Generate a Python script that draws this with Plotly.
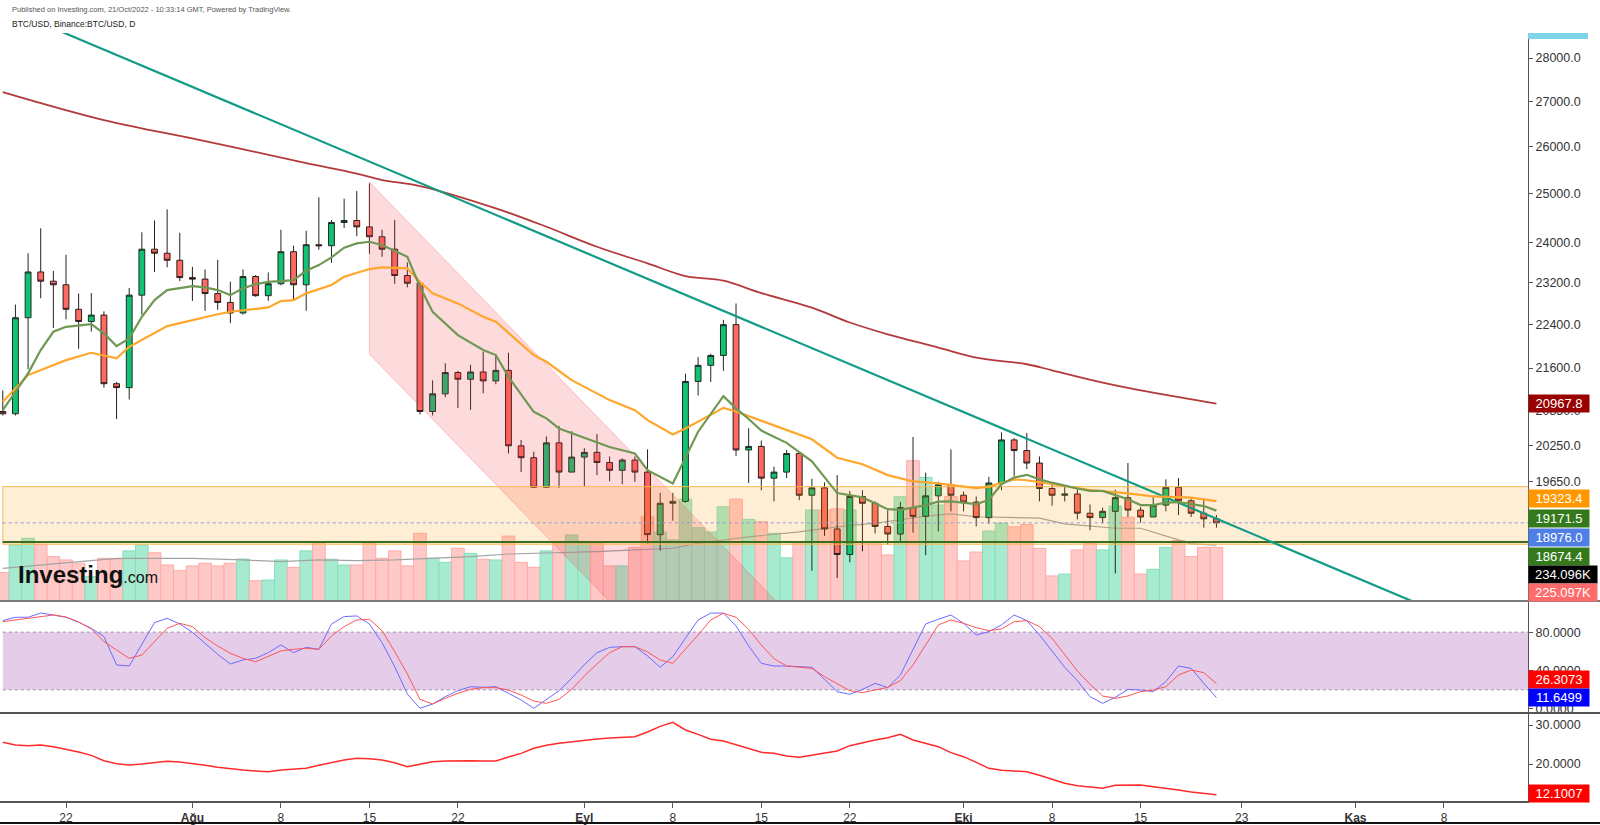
import plotly.graph_objects as go
import pandas as pd

# ---------------- data ----------------
dates = pd.date_range("2022-07-17", "2022-10-21", freq="D").strftime("%Y-%m-%d").tolist()

open_ = [20830, 20790, 22530, 23410, 23230, 23160, 22690, 22460, 22580, 21320, 21250, 22960, 23860, 23780, 23640,
         23300, 23270, 22990, 22820, 22620, 23320, 22950, 23180, 23810, 23160, 23950, 23930, 24400, 24440, 24310,
         24110, 23860, 23340, 23190, 20830, 21140, 21520, 21400, 21530, 21370, 21560, 20240, 20040, 19550, 20290, 19800,
         20050, 20130, 19960, 19830, 20000, 19800, 18790, 19290, 19320, 21360, 21650, 21830, 22400, 20170, 20230,
         19700, 19800, 20110, 19420, 19540, 18880, 18480, 19400, 19290, 18920, 18800, 19220, 19080, 19410, 19590,
         19420, 19310, 19060, 19620, 20340, 20160, 19950, 19530, 19420, 19440, 19130, 19060, 19160, 19380, 19180,
         19070, 19260, 19550, 19330, 19130, 19040]
high = [21200, 22780, 23780, 24280, 23430, 23750, 22990, 23000, 22650, 21350, 23100, 24200, 24440, 24670, 24190,
        23510, 23460, 23650, 23220, 23460, 23350, 23400, 24250, 23930, 24230, 24920, 24450, 24890, 25050, 25210,
        24250, 24450, 23600, 23200, 21380, 21690, 21550, 21660, 21900, 21820, 21880, 20340, 20140, 20400, 20580, 20490,
        20200, 20440, 20060, 20030, 20060, 20180, 19460, 19460, 21500, 21800, 21860, 22490, 22800, 20540, 20330,
        19890, 20170, 20110, 19690, 19630, 19750, 19490, 19500, 19320, 19180, 19310, 20390, 19790, 19640, 20180,
        19480, 19400, 19720, 20470, 20370, 20460, 20060, 19620, 19560, 19520, 19270, 19220, 19510, 19950, 19230,
        19420, 19680, 19700, 19360, 19350, 19100]
low = [20760, 20760, 21580, 22900, 22340, 22500, 21950, 22270, 21250, 20700, 21040, 22590, 23410, 23500, 23230,
       22850, 22660, 22680, 22430, 22590, 22930, 22850, 23150, 22870, 22660, 23850, 23590, 24290, 24120, 23770,
       23710, 23180, 23110, 20780, 20760, 21080, 20890, 20860, 21150, 21310, 20110, 19800, 19540, 19550, 19540, 19800,
       19570, 19750, 19650, 19600, 19640, 18650, 18540, 19010, 19300, 21110, 21350, 21550, 20070, 19620, 19500,
       19320, 19700, 19340, 18230, 18770, 18120, 18360, 18530, 18810, 18630, 18680, 18820, 18470, 18840, 19160,
       19160, 18920, 18960, 19500, 19730, 19850, 19320, 19250, 19320, 19030, 18860, 18970, 18190, 19070, 18980,
       19070, 19160, 19100, 19070, 18900, 18900]
close = [20790, 22530, 23410, 23230, 23160, 22690, 22460, 22580, 21320, 21250, 22960, 23860, 23780, 23640, 23300,
         23270, 22990, 22820, 22620, 23320, 22950, 23180, 23810, 23160, 23950, 23930, 24400, 24440, 24310, 24110,
         23860, 23340, 23190, 20830, 21140, 21520, 21400, 21530, 21370, 21560, 20240, 20040, 19550, 20290, 19800, 20050,
         20130, 19960, 19830, 20000, 19800, 18790, 19290, 19320, 21360, 21650, 21830, 22400, 20170, 20230, 19700,
         19800, 20110, 19420, 19540, 18880, 18480, 19400, 19290, 18920, 18800, 19220, 19080, 19410, 19590, 19420,
         19310, 19060, 19620, 20340, 20160, 19950, 19530, 19420, 19440, 19130, 19060, 19160, 19380, 19180, 19070,
         19260, 19550, 19330, 19130, 19040, 18976]

volume_k = [119, 235, 263, 238, 186, 172, 158, 102, 179, 175, 210, 235, 202, 151, 127,
            147, 158, 147, 158, 176, 85, 88, 172, 141, 210, 249, 175, 151, 151, 244, 179, 210, 147, 284, 179,
            162, 221, 200, 175, 172, 272, 162, 141, 210, 249, 277,
            242, 244, 147, 147, 225, 353, 289, 256, 427, 307, 289, 395, 427, 342, 332, 284, 181, 249, 381, 381,
            386, 381, 247, 239, 193, 437, 588, 518, 402, 437,
            168, 205, 293, 326, 311, 321, 221, 105, 113, 214, 242, 214, 398, 351, 113, 133, 225, 253, 186, 225, 225.097]

vol_ma_dates = ["2022-07-17", "2022-07-20", "2022-07-23", "2022-07-26", "2022-07-29", "2022-08-01", "2022-08-05",
                "2022-08-08", "2022-08-11", "2022-08-14", "2022-08-17", "2022-08-20", "2022-08-23", "2022-08-26",
                "2022-08-30", "2022-09-02", "2022-09-05", "2022-09-08", "2022-09-10", "2022-09-14", "2022-09-18",
                "2022-09-21", "2022-09-24", "2022-09-28", "2022-09-30", "2022-10-02", "2022-10-07", "2022-10-09",
                "2022-10-13", "2022-10-15", "2022-10-18", "2022-10-19", "2022-10-21"]
vol_ma_k = [137, 151, 165, 179, 179, 179, 172, 165, 172, 169, 172, 179, 186, 197, 202, 207, 214, 221, 242, 269,
            290, 311, 326, 356, 365, 353, 347, 323, 305, 305, 256, 239, 234.096]

ema_fast_dates = ["2022-07-17", "2022-07-19", "2022-07-20", "2022-07-21", "2022-07-22", "2022-07-24", "2022-07-25",
                  "2022-07-26", "2022-07-27", "2022-07-28", "2022-07-29", "2022-07-30", "2022-08-01", "2022-08-02",
                  "2022-08-03", "2022-08-04", "2022-08-05", "2022-08-06", "2022-08-07", "2022-08-08", "2022-08-09",
                  "2022-08-10", "2022-08-11", "2022-08-12", "2022-08-13", "2022-08-14", "2022-08-15", "2022-08-16",
                  "2022-08-17", "2022-08-18", "2022-08-19", "2022-08-20", "2022-08-22", "2022-08-24", "2022-08-25",
                  "2022-08-26", "2022-08-28", "2022-08-29", "2022-08-30", "2022-09-01", "2022-09-02", "2022-09-03",
                  "2022-09-05", "2022-09-06", "2022-09-08", "2022-09-09", "2022-09-10", "2022-09-12", "2022-09-13",
                  "2022-09-14", "2022-09-15", "2022-09-17", "2022-09-19", "2022-09-21", "2022-09-22", "2022-09-23",
                  "2022-09-25", "2022-09-26", "2022-09-28", "2022-09-29", "2022-09-30", "2022-10-02", "2022-10-03",
                  "2022-10-04", "2022-10-05", "2022-10-06", "2022-10-07", "2022-10-08", "2022-10-10", "2022-10-11",
                  "2022-10-12", "2022-10-14", "2022-10-15", "2022-10-16", "2022-10-17", "2022-10-18", "2022-10-20",
                  "2022-10-21"]
ema_fast = [20854, 21505, 21929, 22267, 22360, 22411, 22237, 22002, 22144, 22548, 22865, 23058, 23135, 23110,
            23058, 22961, 23091, 23174, 23218, 23238, 23252, 23433, 23545, 23697, 23889, 23977, 24009, 23943,
            23830, 23709, 23121, 22643, 22205, 21929, 21837, 21443, 20824, 20710, 20537, 20380, 20308, 20220,
            20112, 19832, 19613, 20054, 20480, 21100, 20884, 20700, 20500, 20290, 19980, 19455, 19420, 19385,
            19195, 19185, 19260, 19315, 19320, 19275, 19345, 19600, 19710, 19755, 19680, 19625, 19530, 19490,
            19490, 19355, 19260, 19260, 19300, 19310, 19245, 19171.5]

ema_slow_dates = ["2022-07-17", "2022-07-19", "2022-07-22", "2022-07-24", "2022-07-26", "2022-07-27", "2022-07-30",
                  "2022-08-02", "2022-08-03", "2022-08-04", "2022-08-07", "2022-08-08", "2022-08-09", "2022-08-10",
                  "2022-08-12", "2022-08-13", "2022-08-15", "2022-08-16", "2022-08-18", "2022-08-19", "2022-08-20",
                  "2022-08-22", "2022-08-24", "2022-08-25", "2022-08-28", "2022-08-29", "2022-08-31", "2022-09-03",
                  "2022-09-05", "2022-09-06", "2022-09-08", "2022-09-09", "2022-09-12", "2022-09-13", "2022-09-15",
                  "2022-09-17", "2022-09-19", "2022-09-21", "2022-09-23", "2022-09-25", "2022-09-27", "2022-09-29",
                  "2022-10-02", "2022-10-03", "2022-10-05", "2022-10-06", "2022-10-08", "2022-10-11", "2022-10-14",
                  "2022-10-16", "2022-10-19", "2022-10-21"]
ema_slow = [21000, 21474, 21745, 21879, 21777, 21989, 22373, 22548, 22596, 22643, 22726, 22846, 22865, 22994,
            23155, 23316, 23467, 23500, 23480, 23218, 22994, 22802, 22548, 22454, 21837, 21715, 21384, 21029,
            20854, 20680, 20434, 20537, 20894, 20830, 20670, 20520, 20350, 20040, 19930, 19750, 19645, 19615,
            19535, 19560, 19680, 19665, 19600, 19505, 19450, 19400, 19380, 19323.4]

ma200_dates = ["2022-07-17", "2022-07-25", "2022-08-02", "2022-08-10", "2022-08-14", "2022-08-16", "2022-08-19",
               "2022-08-25", "2022-08-29", "2022-09-02", "2022-09-06", "2022-09-09", "2022-09-12", "2022-09-15",
               "2022-09-19", "2022-09-22", "2022-09-25", "2022-09-29", "2022-10-02", "2022-10-06", "2022-10-08",
               "2022-10-12", "2022-10-16", "2022-10-21"]
ma200 = [27214, 26584, 26121, 25644, 25419, 25281, 25155, 24690, 24312, 23909, 23579, 23330, 23240, 23000,
         22720, 22440, 22220, 21975, 21790, 21670, 21560, 21340, 21160, 20967.8]

stoch_k = [92.1, 95.6, 95.6, 100, 98.0, 95.6, 90.4, 84.1, 75.4, 45.8, 44.7, 66.7, 90.0, 94.5, 88.6,
           79.9, 68.4, 56.9, 46.8, 51.0, 52.7, 58.6, 66.7, 58.6, 64.2, 62.1, 88.6, 96.3, 97.0, 88.6, 69.1,
           44.0, 15.5, 0.5, 5.0, 12.7, 18.9, 23.1, 22.4, 23.1, 16.2, 9.2, 0.5, 9.9, 18.9, 31.8,
           46.1, 58.6, 64.2, 64.9, 64.9, 55.2, 43.3, 54.5, 73.6, 92.8, 100, 100, 86.5, 65.6, 47.5,
           44.7, 44.7, 44.0, 43.3, 30.8, 17.9, 15.1, 20.3, 26.6, 22.1, 35.3, 61.4, 88.6, 93.5, 98.0,
           89.3, 77.1, 80.6, 87.6, 98.0, 92.1, 77.1, 59.7, 43.3, 29.4, 12.7, 5.7, 12.0, 20.3, 19.6,
           17.9, 28.4, 44.7, 42.3, 26.6, 11.6499]
stoch_d = [91.0, 92.8, 94.5, 96.3, 98.0, 95.9, 90.7, 83.4, 70.2, 61.4, 52.7, 56.2, 70.2, 84.1, 89.3,
           85.8, 74.3, 65.6, 58.0, 52.7, 49.2, 55.2, 60.4, 62.1, 63.2, 62.1, 76.1, 85.8, 92.8, 93.5, 81.6,
           59.7, 36.4, 9.9, 5.0, 10.9, 16.2, 20.3, 22.1, 22.1, 19.6, 14.4, 8.1, 5.7, 9.9, 20.3,
           34.3, 46.8, 58.6, 64.9, 64.9, 59.4, 51.0, 47.5, 62.1, 77.1, 92.8, 99.8, 95.6, 83.0, 66.7,
           52.4, 44.7, 43.3, 42.3, 33.6, 25.9, 18.9, 16.9, 19.6, 22.4, 29.4, 45.8, 66.7, 87.6, 92.8,
           89.3, 84.8, 81.6, 83.4, 91.0, 92.1, 85.8, 73.6, 56.2, 39.5, 25.6, 13.4, 10.9, 13.4, 17.9,
           19.6, 23.1, 35.3, 40.5, 37.8, 26.3073]

lower_ind = [25.56, 24.87, 24.70, 24.87, 24.44, 23.85, 23.08, 22.22, 20.85, 20.08, 19.74, 20.00, 20.34, 20.68, 20.51,
             20.17, 19.66, 19.15, 18.72, 18.46, 18.21, 18.03, 18.46, 18.72, 18.89, 19.66, 20.43, 21.03, 21.45, 21.37,
             21.03, 20.34, 19.32, 20.00, 20.60, 20.77, 20.85, 20.85, 20.77, 20.77, 21.79, 22.73, 24.02, 24.79, 25.30,
             25.73,
             26.15, 26.41, 26.66, 26.84, 27.01, 28.20, 29.66, 30.68, 28.72, 27.61, 26.33, 25.90, 24.96, 23.93, 22.99,
             22.73, 22.05, 21.71, 22.22, 22.73, 23.33, 24.70, 25.47, 26.15, 26.75, 27.61, 26.15, 25.30, 24.44, 22.91,
             21.88, 20.43, 18.89, 18.38, 18.21, 18.03, 17.09, 16.07, 15.04, 14.44, 14.10, 13.76, 14.53, 14.62, 14.62,
             14.19, 13.85, 13.33, 12.82, 12.48, 12.1007]

# drawings (anchor points)
trend_dates = ["2022-07-20", "2022-11-06"]
trend_prices = [28833, 17731]
channel_dates = ["2022-08-15", "2022-09-30", "2022-09-30", "2022-08-15", "2022-08-15"]
channel_prices = [25239, 15287, 13237, 21854, 25239]
zone_dates = ["2022-07-17", "2022-11-30", "2022-11-30", "2022-07-17", "2022-07-17"]
zone_prices = [19560, 19560, 18640, 18640, 19560]
support_level = 18674.4
last_price = 18976.0
drawing_span = ["2022-07-17", "2022-11-30"]

price_ticks = [19650, 20250, 20850, 21600, 22400, 23200, 24000, 25000, 26000, 27000, 28000]
x_tick_dates = ["2022-07-22", "2022-08-01", "2022-08-08", "2022-08-15", "2022-08-22", "2022-09-01", "2022-09-08",
                "2022-09-15", "2022-09-22", "2022-10-01", "2022-10-08", "2022-10-15", "2022-10-23", "2022-11-01",
                "2022-11-08"]
x_tick_text = ["22", "<b>Ağu</b>", "8", "15", "22", "<b>Eyl</b>", "8", "15", "22", "<b>Eki</b>", "8", "15", "23",
               "<b>Kas</b>", "8"]

# ---------------- layout helpers ----------------
W, H = 1600, 825
TOP, BOTTOM, RIGHT = 33, 801, 1528


def py(px):
    return (BOTTOM - px) / (BOTTOM - TOP)


def px_x(px):
    return px / RIGHT


FONT = "Arial, Liberation Sans, sans-serif"

fig = go.Figure()

# volume
vol_colors = ["#a6ebcf" if c >= o else "#ffc9c7" for o, c in zip(open_, close)]
vol_edges = ["#86dfba" if c >= o else "#ffaaa6" for o, c in zip(open_, close)]
fig.add_trace(go.Bar(x=dates, y=volume_k, marker=dict(color=vol_colors, line=dict(color=vol_edges, width=1)),
                     xaxis="x", yaxis="y", showlegend=False))
fig.add_trace(go.Scatter(x=vol_ma_dates, y=vol_ma_k, mode="lines", line=dict(color="#a3a3a3", width=1.2),
                         xaxis="x", yaxis="y", showlegend=False))

# drawings on price axis
fig.add_trace(go.Scatter(x=channel_dates, y=channel_prices, fill="toself", fillcolor="rgba(242,54,69,0.18)",
                         mode="lines", line=dict(color="rgba(242,54,69,0.25)", width=1),
                         xaxis="x", yaxis="y2", showlegend=False))
fig.add_trace(go.Scatter(x=zone_dates, y=zone_prices, fill="toself", fillcolor="rgba(255,152,0,0.16)",
                         mode="lines", line=dict(color="#ffb74d", width=1),
                         xaxis="x", yaxis="y2", showlegend=False))
fig.add_trace(go.Scatter(x=drawing_span, y=[last_price, last_price], mode="lines",
                         line=dict(color="#8e9dd0", width=1, dash="dot"), xaxis="x", yaxis="y2", showlegend=False))
fig.add_trace(go.Scatter(x=drawing_span, y=[support_level, support_level], mode="lines",
                         line=dict(color="#3a6e1e", width=2), xaxis="x", yaxis="y2", showlegend=False))
fig.add_trace(go.Scatter(x=ma200_dates, y=ma200, mode="lines", line=dict(color="#b33a3a", width=1.8),
                         line_shape="spline", xaxis="x", yaxis="y2", showlegend=False))
fig.add_trace(go.Scatter(x=trend_dates, y=trend_prices, mode="lines", line=dict(color="#129c86", width=2.2),
                         xaxis="x", yaxis="y2", showlegend=False))
fig.add_trace(go.Scatter(x=ema_slow_dates, y=ema_slow, mode="lines", line=dict(color="#ffa62b", width=2.2),
                         xaxis="x", yaxis="y2", showlegend=False))
fig.add_trace(go.Scatter(x=ema_fast_dates, y=ema_fast, mode="lines", line=dict(color="#6f9853", width=2.2),
                         xaxis="x", yaxis="y2", showlegend=False))
fig.add_trace(go.Candlestick(x=dates, open=open_, high=high, low=low, close=close,
                             increasing=dict(fillcolor="#12c274", line=dict(color="#1d2b22", width=1)),
                             decreasing=dict(fillcolor="#ff6a62", line=dict(color="#2b1d1d", width=1)),
                             whiskerwidth=0, xaxis="x", yaxis="y2", showlegend=False))

# stochastic pane
fig.add_trace(go.Scatter(x=[drawing_span[0], drawing_span[1], drawing_span[1], drawing_span[0]],
                         y=[20, 20, 80, 80], fill="toself", fillcolor="#e5cdea", mode="lines",
                         line=dict(width=0), xaxis="x", yaxis="y3", showlegend=False))
for lvl in (20, 80):
    fig.add_trace(go.Scatter(x=drawing_span, y=[lvl, lvl], mode="lines",
                             line=dict(color="#b9a9bd", width=1.5, dash="dot"),
                             xaxis="x", yaxis="y3", showlegend=False))
fig.add_trace(go.Scatter(x=dates, y=stoch_k, mode="lines", line=dict(color="#6b6bff", width=1),
                         xaxis="x", yaxis="y3", showlegend=False))
fig.add_trace(go.Scatter(x=dates, y=stoch_d, mode="lines", line=dict(color="#ff5555", width=1),
                         xaxis="x", yaxis="y3", showlegend=False))

# lower indicator pane
fig.add_trace(go.Scatter(x=dates, y=lower_ind, mode="lines", line=dict(color="#ff2a2a", width=1.5),
                         xaxis="x", yaxis="y4", showlegend=False))

main_dom = [py(601), 1.0]
stoch_dom = [py(713), py(601)]
low_dom = [0.0, py(713)]

axis_common = dict(showgrid=False, zeroline=False, side="right", anchor="x", ticks="outside", ticklen=4,
                   tickcolor="#555", showline=True, linecolor="#555", linewidth=1,
                   tickfont=dict(family=FONT, size=12.5, color="#333"), fixedrange=True)

fig.update_layout(
    width=W, height=H,
    margin=dict(l=0, r=W - RIGHT, t=TOP, b=H - BOTTOM, pad=0),
    paper_bgcolor="white", plot_bgcolor="white",
    showlegend=False, bargap=0, boxgap=0.34, hovermode=False,
    xaxis=dict(type="date", range=["2022-07-16 18:42", "2022-11-14 15:30"], anchor="y4",
               showgrid=False, zeroline=False, showline=True, linecolor="#555", linewidth=1.5,
               ticks="outside", ticklen=5, tickcolor="#555", tickvals=x_tick_dates, ticktext=x_tick_text,
               tickfont=dict(family=FONT, size=12, color="#333"), rangeslider=dict(visible=False),
               fixedrange=True),
    yaxis=dict(domain=main_dom, range=[0, (601 - TOP) / 0.2386], visible=False, anchor="x",
               showgrid=False, zeroline=False, fixedrange=True),
    yaxis2=dict(overlaying="y", type="log", range=[4.24981, 4.45625], tickvals=price_ticks,
                ticktext=[f"{v:.1f}" for v in price_ticks], **axis_common),
    yaxis3=dict(domain=stoch_dom, range=[-4.4, 112.6], tickvals=[0, 40, 80],
                ticktext=["0.0000", "40.0000", "80.0000"], **axis_common),
    yaxis4=dict(domain=low_dom, range=[10.51, 33.08], tickvals=[20, 30],
                ticktext=["20.0000", "30.0000"], **axis_common),
)

# separators & frame lines
shapes = []
for ypx, col in ((601, "#7a7a7a"), (713, "#555555")):
    shapes.append(dict(type="line", xref="paper", yref="paper", x0=0, x1=W / RIGHT, y0=py(ypx), y1=py(ypx),
                       line=dict(color=col, width=2)))
shapes.append(dict(type="line", xref="paper", yref="paper", x0=0, x1=W / RIGHT, y0=py(823), y1=py(823),
                   line=dict(color="#111", width=2)))
shapes.append(dict(type="rect", xref="paper", yref="paper", x0=1.0, x1=px_x(1588), y0=py(39), y1=py(33),
                   fillcolor="#7fd3e8", line=dict(width=0)))
fig.update_layout(shapes=shapes)

annotations = []
labels = [
    ("20967.8", 403, "#990000", 58),
    ("19323.4", 499, "#ff9800", 58),
    ("19171.5", 518, "#347a1c", 58),
    ("18976.0", 537, "#4f7fe6", 58),
    ("18674.4", 556, "#347a1c", 58),
    ("234.096K", 574, "#000000", 66),
    ("225.097K", 592, "#ff6b6b", 66),
    ("26.3073", 679, "#ff0000", 58),
    ("11.6499", 697, "#0000ff", 58),
    ("12.1007", 793, "#ff0000", 58),
]
for txt, ypx, bg, wd in labels:
    annotations.append(dict(x=1.0, xref="paper", xanchor="left", y=py(ypx), yref="paper", yanchor="middle",
                            text=txt, showarrow=False, bgcolor=bg, borderpad=1, width=wd, align="center",
                            font=dict(family=FONT, size=13, color="white")))

annotations.append(dict(x=px_x(10), xref="paper", xanchor="left", y=py(9), yref="paper", yanchor="middle",
                        text="Published on Investing.com, 21/Oct/2022 - 10:33:14 GMT, Powered by TradingView.",
                        showarrow=False, font=dict(family=FONT, size=7.5, color="#555")))
annotations.append(dict(x=px_x(10), xref="paper", xanchor="left", y=py(24), yref="paper", yanchor="middle",
                        text="BTC/USD, Binance:BTC/USD, D",
                        showarrow=False, font=dict(family=FONT, size=8.5, color="#222")))
annotations.append(dict(x=px_x(16), xref="paper", xanchor="left", y=py(574), yref="paper", yanchor="middle",
                        text="<b>Investing</b><span style='font-size:16px'>.com</span>",
                        showarrow=False, font=dict(family=FONT, size=24, color="#111")))
fig.update_layout(annotations=annotations)

fig.write_html("out.html", config={"displayModeBar": False, "staticPlot": True},
               post_script="document.body.style.margin='0';document.body.style.overflow='hidden';")
